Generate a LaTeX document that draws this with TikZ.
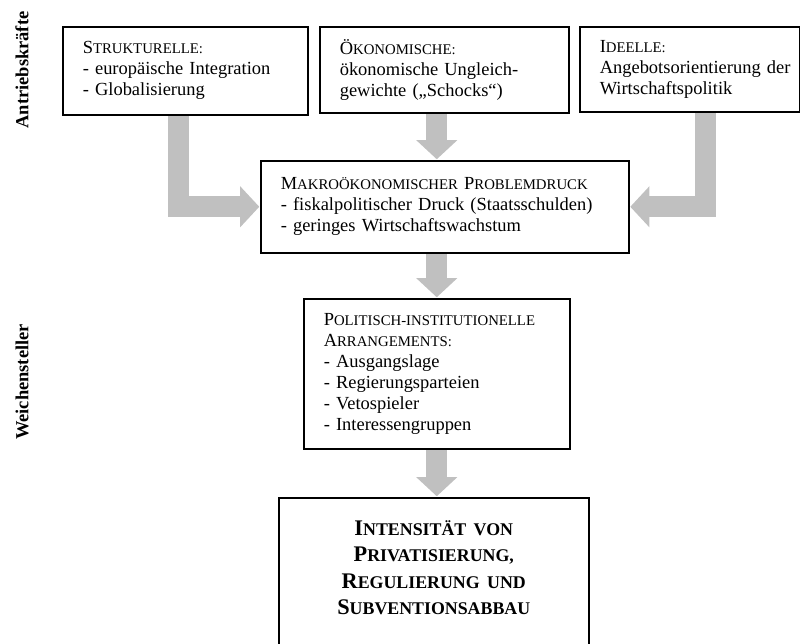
\documentclass[tikz,border=0pt]{standalone}
\usepackage{fontspec}
\setmainfont{Liberation Serif}
\usetikzlibrary{arrows.meta,positioning}
\definecolor{pfeilgrau}{RGB}{192,192,192}
% Kapitaelchen von Hand
\newcommand{\Kap}[2]{#1{\fontsize{9.6}{13.7}\selectfont #2}}
\newcommand{\KapGross}[2]{#1{\fontsize{11.6}{17.3}\selectfont #2}}

\tikzset{
  kasten/.style={draw, line width=1pt, anchor=north west, align=left,
    inner xsep=13pt, inner ysep=0pt, font=\fontsize{12}{13.7}\selectfont},
  pfeil/.style={draw=pfeilgrau, line width=13.7pt, line join=miter,
    shorten <=0.5pt, shorten >=0.5pt,
    -{Triangle[width=26.7pt,length=12.4pt,line width=0pt]}},
  seite/.style={rotate=90, font=\fontsize{12}{13.7}\selectfont\bfseries}
}

\begin{document}
\begin{tikzpicture}[x=0.65pt, y=-0.65pt]
  \useasboundingbox (0,0) rectangle (800,644);

  % Antriebskraefte
  \node[kasten, text width=133.3pt, minimum height=57.2pt] (struk) at (62,26)
    {\Kap{S}{TRUKTURELLE:}\\ - europäische Integration\\ - Globalisierung};
  \node[kasten, text width=135.9pt, minimum height=55.9pt] (oekon) at (319,26)
    {\Kap{Ö}{KONOMISCHE:}\\ ökonomische Ungleich-\\ gewichte („Schocks“)};
  \node[kasten, text width=117pt, minimum height=55.3pt] (ideell) at (579,26)
    {\Kap{I}{DEELLE:}\\ Angebotsorientierung~der\\ Wirtschaftspolitik};

  \node[kasten, text width=213.2pt, minimum height=59.8pt] (makro) at (260,160)
    {\Kap{M}{AKROÖKONOMISCHER} \Kap{P}{ROBLEMDRUCK}\\
     - fiskalpolitischer Druck (Staatsschulden)\\
     - geringes Wirtschaftswachstum};

  % Weichensteller
  \node[kasten, text width=146.9pt, minimum height=97.5pt] (polit) at (303,298)
    {\Kap{P}{OLITISCH-INSTITUTIONELLE}\\ \Kap{A}{RRANGEMENTS:}\\
     - Ausgangslage\\ - Regierungsparteien\\ - Vetospieler\\ - Interessengruppen};

  \node[kasten, align=center, text width=175.5pt, minimum height=108pt,
        font=\fontsize{14.5}{17.3}\selectfont\bfseries] (intens) at (278,497)
    {\KapGross{I}{NTENSITÄT VON}\\ \KapGross{P}{RIVATISIERUNG,}\\
     \KapGross{R}{EGULIERUNG UND}\\ \KapGross{S}{UBVENTIONSABBAU}\\ ~};

  \node[seite] (antrieb) at (22,70) {Antriebskräfte};
  \node[seite] (weiche) at (22,382) {Weichensteller};

  \draw[pfeil] ([xshift=-4.2pt]struk.south) |- (makro.west);
  \draw[pfeil] (oekon.south -| polit.north) -- (makro.north -| polit.north);
  \draw[pfeil] ([xshift=10.5pt]ideell.south) |- (makro.east);
  \draw[pfeil] (makro.south -| polit.north) -- (polit.north);
  \draw[pfeil] (polit.south) -- (polit.south |- intens.north);
\end{tikzpicture}
\end{document}
